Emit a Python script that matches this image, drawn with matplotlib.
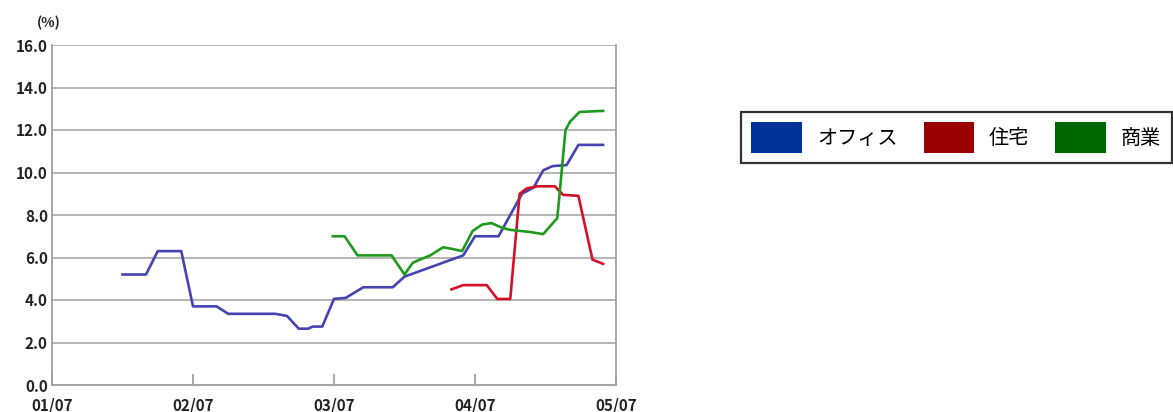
import matplotlib
matplotlib.use("Agg")
import matplotlib.pyplot as plt
from matplotlib.patches import Patch

# months elapsed since 2001/07
office_x = [6, 8, 9, 11, 12, 14, 15, 19, 20, 21, 21.8, 22.2, 23, 24, 25, 26.5, 29, 30, 35,
            36, 38, 40, 41, 41.8, 42.6, 43.8, 44.8, 46.9]
office_y = [5.2, 5.2, 6.3, 6.3, 3.7, 3.7, 3.35, 3.35, 3.25, 2.65, 2.65, 2.75, 2.75, 4.05, 4.1,
            4.6, 4.6, 5.1, 6.1, 7.0, 7.0, 9.0, 9.3, 10.1, 10.3, 10.35, 11.3, 11.3]

housing_x = [34, 35, 37, 37.9, 39, 39.8, 40.4, 41.3, 42.8, 43.5, 44.8, 46.0, 46.9]
housing_y = [4.5, 4.7, 4.7, 4.05, 4.05, 9.0, 9.25, 9.35, 9.35, 8.95, 8.9, 5.9, 5.7]

retail_x = [23.9, 24.9, 26, 28.9, 30, 30.7, 31.3, 32.2, 32.9, 33.3, 34.1, 34.9, 35.8, 36.6,
            37.4, 38.3, 39, 40.7, 41.8, 42.6, 43.0, 43.2, 43.7, 44.1, 44.9, 46.9]
retail_y = [7.0, 7.0, 6.1, 6.1, 5.2, 5.75, 5.9, 6.1, 6.35, 6.48, 6.4, 6.3, 7.25, 7.55,
            7.62, 7.4, 7.3, 7.2, 7.1, 7.6, 7.85, 9.0, 12.0, 12.4, 12.85, 12.9]

x_ticks = [0, 12, 24, 36, 48]
x_labels = ["01/07", "02/07", "03/07", "04/07", "05/07"]
y_ticks = [0, 2, 4, 6, 8, 10, 12, 14, 16]

series_labels = ["オフィス", "住宅", "商業"]
line_colors = ["#4444b0", "#d41028", "#1e9a1e"]
legend_colors = ["#003399", "#990000", "#006600"]

plt.rcParams["font.family"] = ["Noto Sans CJK JP", "DejaVu Sans"]

fig = plt.figure(figsize=(11.73, 4.12), dpi=100)
ax = fig.add_axes([52 / 1173, 1 - 385 / 412, (616 - 52) / 1173, (385 - 45) / 412])

for xs, ys, color in zip([office_x, housing_x, retail_x], [office_y, housing_y, retail_y], line_colors):
    ax.plot(xs, ys, color=color, linewidth=1.9, solid_joinstyle="round")

ax.set_xlim(0, 48)
ax.set_ylim(0, 16)
ax.set_yticks(y_ticks)
ax.set_yticklabels([f"{v:.1f}" for v in y_ticks], fontsize=11, fontweight="bold", color="#222222")
ax.set_xticks(x_ticks)
ax.set_xticklabels(x_labels, fontsize=11, fontweight="bold", color="#222222")
ax.tick_params(axis="y", length=0, pad=3)
ax.tick_params(axis="x", direction="in", length=8, color="#999999", width=1.2, pad=9)
ax.grid(True, axis="y", color="#a8a8a8", linewidth=1.2)
ax.set_axisbelow(True)
for side in ["left", "bottom", "right"]:
    ax.spines[side].set_color("#a0a0a0")
    ax.spines[side].set_linewidth(1.3)
ax.spines["top"].set_visible(False)

ax.text(-0.005, 1.065, "(%)", transform=ax.transAxes, ha="center", va="center",
        fontsize=10, fontweight="bold", color="#222222")

handles = [Patch(facecolor=c, edgecolor="none") for c in legend_colors]
leg = fig.legend(handles, series_labels, ncol=3, loc="upper left",
                 bbox_to_anchor=(741 / 1173, 1 - 112 / 412), fontsize=14.5,
                 handlelength=2.5, handleheight=1.92, handletextpad=0.75,
                 columnspacing=1.3, borderpad=0.52, borderaxespad=0,
                 frameon=True, fancybox=False)
leg.get_frame().set_edgecolor("black")
leg.get_frame().set_linewidth(1.6)

fig.savefig("out.png", dpi=100)
